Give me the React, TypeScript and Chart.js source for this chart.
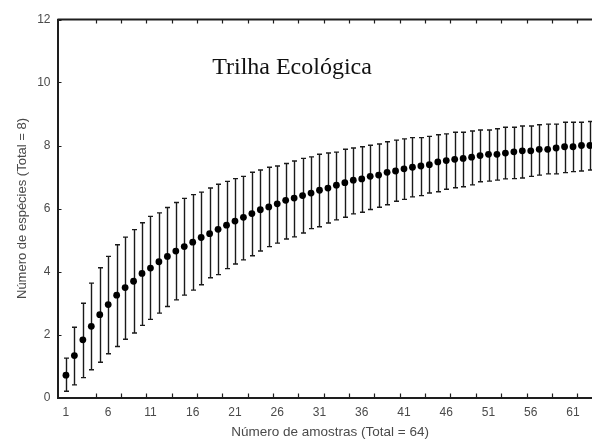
import React, { useEffect, useRef } from "react";
import { Chart, registerables } from "chart.js";

Chart.register(...registerables);

const samples = [
  1, 2, 3, 4, 5, 6, 7, 8, 9, 10, 11, 12, 13, 14, 15, 16, 17, 18, 19, 20, 21, 22,
  23, 24, 25, 26, 27, 28, 29, 30, 31, 32, 33, 34, 35, 36, 37, 38, 39, 40, 41, 42,
  43, 44, 45, 46, 47, 48, 49, 50, 51, 52, 53, 54, 55, 56, 57, 58, 59, 60, 61, 62,
  63, 64,
];

const meanSpecies = [
  0.71, 1.33, 1.83, 2.26, 2.63, 2.95, 3.25, 3.49, 3.69, 3.94, 4.11, 4.31, 4.48,
  4.65, 4.79, 4.93, 5.08, 5.2, 5.34, 5.47, 5.6, 5.72, 5.84, 5.96, 6.05, 6.15,
  6.26, 6.33, 6.41, 6.49, 6.58, 6.65, 6.74, 6.82, 6.9, 6.94, 7.02, 7.06, 7.15,
  7.19, 7.26, 7.31, 7.35, 7.39, 7.48, 7.52, 7.56, 7.59, 7.63, 7.68, 7.72, 7.72,
  7.76, 7.8, 7.83, 7.83, 7.88, 7.88, 7.92, 7.96, 7.96, 8.0, 8.0, 8.0,
];

const upperSpecies = [
  1.25, 2.23, 2.99, 3.63, 4.12, 4.48, 4.85, 5.09, 5.33, 5.55, 5.75, 5.86, 6.03,
  6.19, 6.32, 6.44, 6.52, 6.65, 6.77, 6.86, 6.95, 7.02, 7.15, 7.22, 7.31, 7.35,
  7.43, 7.51, 7.59, 7.64, 7.72, 7.76, 7.79, 7.88, 7.92, 7.96, 8.01, 8.05, 8.12,
  8.17, 8.21, 8.25, 8.25, 8.29, 8.34, 8.37, 8.42, 8.42, 8.46, 8.49, 8.49, 8.53,
  8.58, 8.58, 8.62, 8.62, 8.66, 8.68, 8.68, 8.74, 8.74, 8.74, 8.76, 8.76,
];

const lowerSpecies = [
  0.2, 0.4, 0.63, 0.88, 1.12, 1.39, 1.62, 1.85, 2.05, 2.29, 2.48, 2.68, 2.89,
  3.1, 3.25, 3.41, 3.58, 3.8, 3.9, 4.09, 4.24, 4.37, 4.5, 4.65, 4.79, 4.9, 5.03,
  5.1, 5.22, 5.36, 5.42, 5.54, 5.64, 5.72, 5.83, 5.88, 5.97, 6.04, 6.12, 6.23,
  6.29, 6.37, 6.41, 6.49, 6.53, 6.61, 6.66, 6.69, 6.75, 6.85, 6.87, 6.9, 6.94,
  6.95, 6.97, 7.02, 7.06, 7.1, 7.1, 7.14, 7.17, 7.19, 7.22, 7.24,
];

const xTickLabels = [1, 6, 11, 16, 21, 26, 31, 36, 41, 46, 51, 56, 61];
const xMinorTicks = [
  4.5, 7.5, 10.5, 13.5, 16.5, 19.5, 22.5, 25.5, 28.5, 31.5, 34.5, 37.5, 40.5,
  43.5, 46.5, 49.5, 52.5, 55.5, 58.5, 61.5, 64.5,
];
const yTicks = [0, 2, 4, 6, 8, 10, 12];

const chartTitle = "Trilha Ecológica";
const xTitle = "Número de amostras (Total = 64)";
const yTitle = "Número de espécies (Total = 8)";

const AXIS_COLOR = "#1e1e1e";
const TEXT_COLOR = "#4a4a4a";

const decorPlugin = {
  id: "decor",
  beforeDatasetsDraw(chart: any) {
    const { ctx, chartArea, scales } = chart;
    const xs = scales.x;
    const ys = scales.y;
    ctx.save();
    // error bars
    ctx.strokeStyle = "#1a1a1a";
    ctx.lineWidth = 1.4;
    for (let i = 0; i < samples.length; i++) {
      const px = Math.round(xs.getPixelForValue(samples[i])) + 0.5;
      const pt = ys.getPixelForValue(upperSpecies[i]);
      const pb = ys.getPixelForValue(lowerSpecies[i]);
      ctx.beginPath();
      ctx.moveTo(px, pt);
      ctx.lineTo(px, pb);
      ctx.moveTo(px - 2.5, pt);
      ctx.lineTo(px + 2.5, pt);
      ctx.moveTo(px - 2.5, pb);
      ctx.lineTo(px + 2.5, pb);
      ctx.stroke();
    }
    // top and right border
    ctx.strokeStyle = AXIS_COLOR;
    ctx.lineWidth = 2;
    ctx.beginPath();
    ctx.moveTo(chartArea.left, chartArea.top);
    ctx.lineTo(chartArea.right, chartArea.top);
    ctx.moveTo(chartArea.right, chartArea.top);
    ctx.lineTo(chartArea.right, chartArea.bottom);
    ctx.stroke();
    // inward tick marks
    ctx.lineWidth = 1.2;
    ctx.beginPath();
    for (const v of xMinorTicks) {
      const px = Math.round(xs.getPixelForValue(v)) + 0.5;
      ctx.moveTo(px, chartArea.bottom);
      ctx.lineTo(px, chartArea.bottom - 4);
      ctx.moveTo(px, chartArea.top);
      ctx.lineTo(px, chartArea.top + 4);
    }
    for (const v of yTicks) {
      const py = Math.round(ys.getPixelForValue(v)) + 0.5;
      ctx.moveTo(chartArea.left, py);
      ctx.lineTo(chartArea.left + 4, py);
    }
    ctx.stroke();
    // title inside plot
    ctx.fillStyle = "#111";
    ctx.font = "24px 'Liberation Serif', 'Times New Roman', serif";
    ctx.textAlign = "left";
    ctx.textBaseline = "alphabetic";
    ctx.fillText(chartTitle, xs.getPixelForValue(18.3), ys.getPixelForValue(10.27));
    ctx.restore();
  },
};

export default function App() {
  const canvasRef = useRef<HTMLCanvasElement | null>(null);

  useEffect(() => {
    const canvas = canvasRef.current;
    if (!canvas) return;
    const points = samples.map((s, i) => ({ x: s, y: meanSpecies[i] }));
    const chart = new Chart(canvas, {
      type: "scatter",
      data: {
        datasets: [
          {
            label: "Número de espécies",
            data: points,
            pointRadius: 3.4,
            pointHoverRadius: 3.4,
            pointBackgroundColor: "#000",
            pointBorderColor: "#000",
            pointBorderWidth: 0,
            showLine: false,
          },
        ],
      },
      options: {
        animation: false,
        responsive: false,
        devicePixelRatio: 1,
        layout: { padding: { top: 19.5, left: 0, right: 0, bottom: 0 } },
        plugins: {
          legend: { display: false },
          tooltip: { enabled: false },
          title: { display: false },
        },
        scales: {
          x: {
            type: "linear",
            min: 0,
            max: 64.5,
            afterFit: (scale: any) => {
              scale.height = 49.5;
            },
            afterBuildTicks: (scale: any) => {
              scale.ticks = xTickLabels.map((v) => ({ value: v }));
            },
            ticks: {
              autoSkip: false,
              maxRotation: 0,
              padding: 8,
              color: TEXT_COLOR,
              font: { family: "'Liberation Sans', Arial, sans-serif", size: 12 },
              callback: (v: any) => String(v),
            },
            grid: { display: false, drawTicks: false },
            border: { display: true, color: AXIS_COLOR, width: 2 },
            title: {
              display: true,
              text: xTitle,
              color: TEXT_COLOR,
              font: { family: "'Liberation Sans', Arial, sans-serif", size: 13.5 },
              padding: { top: 0, bottom: 7 },
            },
          },
          y: {
            type: "linear",
            min: 0,
            max: 12,
            afterFit: (scale: any) => {
              scale.width = 57.5;
            },
            afterBuildTicks: (scale: any) => {
              scale.ticks = yTicks.map((v) => ({ value: v }));
            },
            ticks: {
              padding: 7,
              color: TEXT_COLOR,
              font: { family: "'Liberation Sans', Arial, sans-serif", size: 12 },
              callback: (v: any) => String(v),
            },
            grid: { display: false, drawTicks: false },
            border: { display: true, color: AXIS_COLOR, width: 2 },
            title: {
              display: true,
              text: yTitle,
              color: TEXT_COLOR,
              font: { family: "'Liberation Sans', Arial, sans-serif", size: 13 },
              padding: { top: 15, bottom: 0 },
            },
          },
        },
      },
      plugins: [decorPlugin],
    });
    return () => chart.destroy();
  }, []);

  return (
    <div
      style={{
        position: "absolute",
        left: 0,
        top: 0,
        width: 592,
        height: 447,
        overflow: "hidden",
        background: "#fff",
      }}
    >
      <canvas ref={canvasRef} width={606} height={447} style={{ width: 606, height: 447, display: "block" }} />
    </div>
  );
}
